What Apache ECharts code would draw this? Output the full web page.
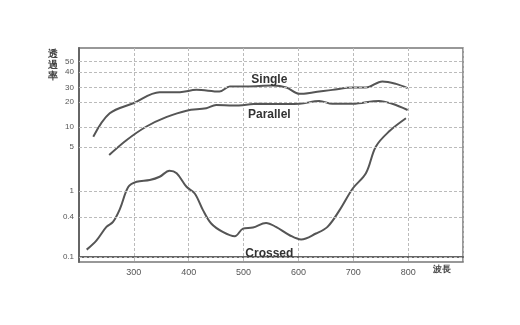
<!DOCTYPE html>
<html>
<head>
<meta charset="utf-8">
<script src="https://cdn.jsdelivr.net/npm/echarts@6/dist/echarts.min.js"></script>
<style>html,body{margin:0;padding:0;background:#fff}#c{width:520px;height:325px}</style>
</head>
<body>
<div id="c"></div>
<script>
// Tick labels of the (warped, log-like) y scale
const yTicks = [0.1, 0.4, 1, 5, 10, 20, 30, 40, 50];
// Axis-unit position of each tick (the reference's y scale is not a pure log scale)
const yTickPos = [0, 40, 66, 109.4, 129.4, 154.4, 169, 184.4, 194.7];
const xTicks = [300, 400, 500, 600, 700, 800];

const singleWl = [226,256,299,347,384,414,456,475,505,553,578,602,626,662,699,723,753,778,799];
const singleVal = [7.2,14.7,19.4,26.4,26.4,28.1,26.8,30.6,30.6,31.1,30,25.2,26.1,28.1,30,30,33.6,32.1,29.5];

const parallelWl = [255,287,323,359,396,432,450,481,529,578,602,638,662,699,747,771,799];
const parallelVal = [3.76,6.44,10.2,13.2,15.8,16.9,18.5,18.2,19.1,19.0,19.1,20.7,19.1,19.1,20.7,19.1,16.1];

const crossedWl = [214,232,250,262,275,290,305,329,347,365,378,396,411,426,441,462,484,499,517,541,559,584,605,632,653,675,699,723,741,765,796];
const crossedVal = [0.129,0.178,0.283,0.336,0.539,1.16,1.40,1.49,1.68,2.10,1.91,1.16,0.91,0.507,0.318,0.238,0.205,0.267,0.277,0.325,0.283,0.212,0.183,0.225,0.283,0.507,1.09,1.91,5.1,8.6,12.8];

const seriesNames = ['Single', 'Parallel', 'Crossed'];
const labelAnchors = [[547, 34.6], [547, 14.1], [547, 0.113]];

function toAxis(v) {
  const lv = Math.log10(v);
  const L = yTicks.map(t => Math.log10(t));
  let i = 0;
  while (i < L.length - 2 && lv > L[i + 1]) i++;
  const f = (lv - L[i]) / (L[i + 1] - L[i]);
  return yTickPos[i] + f * (yTickPos[i + 1] - yTickPos[i]);
}
function labelFor(p) {
  for (let i = 0; i < yTickPos.length; i++) if (Math.abs(yTickPos[i] - p) < 0.01) return String(yTicks[i]);
  return '';
}
function pairs(wl, val) { return wl.map((w, i) => [w, toAxis(val[i])]); }

const lineColor = '#555';
const gridDash = {color: '#bbb', type: [3, 2], width: 1};

function mkSeries(name, wl, val, anchor) {
  return {
    name: name, type: 'line', data: pairs(wl, val), smooth: 0.35, symbol: 'none',
    lineStyle: {color: lineColor, width: 2},
    markPoint: {
      symbol: 'circle', symbolSize: 0, silent: true,
      data: [{coord: [anchor[0], toAxis(anchor[1])], value: name}],
      label: {show: true, position: 'inside', formatter: name, color: '#333', fontSize: 12,
              fontWeight: 'bold', fontFamily: 'Liberation Sans, Arial, sans-serif'}
    }
  };
}

const chart = echarts.init(document.getElementById('c'));
chart.setOption({
  animation: false,
  grid: {left: 79, right: 57, top: 48, bottom: 63, show: true, borderColor: '#777', borderWidth: 1.5},
  xAxis: {
    type: 'value', min: 200, max: 900, interval: 100,
    axisLine: {show: true, lineStyle: {color: '#666', width: 2}},
    axisTick: {show: false},
    axisLabel: {color: '#555', fontSize: 9, margin: 6,
      formatter: v => xTicks.includes(v) ? String(v) : ''},
    splitLine: {show: true, lineStyle: gridDash}
  },
  yAxis: {
    type: 'value', min: -5, max: 208.4,
    axisLine: {show: true, lineStyle: {color: '#666', width: 2}},
    axisTick: {show: false, customValues: yTickPos},
    axisLabel: {customValues: yTickPos, color: '#555', fontSize: 8, margin: 5, formatter: labelFor},
    splitLine: {show: false}
  },
  graphic: [
    {type: 'text', left: 48, top: 49, style: {text: '透\n過\n率', fontSize: 10, lineHeight: 11, fontWeight: 'bold', fill: '#444'}},
    {type: 'text', left: 433, top: 265, style: {text: '波長', fontSize: 9, fontWeight: 'bold', fill: '#444'}}
  ],
  series: [
    mkSeries(seriesNames[0], singleWl, singleVal, labelAnchors[0]),
    mkSeries(seriesNames[1], parallelWl, parallelVal, labelAnchors[1]),
    mkSeries(seriesNames[2], crossedWl, crossedVal, labelAnchors[2]),
    {
      type: 'line', data: [], silent: true,
      markLine: {symbol: 'none', silent: true, label: {show: false},
        lineStyle: gridDash,
        data: yTickPos.map(p => ({yAxis: p}))}
    }
  ]
});
</script>
</body>
</html>
